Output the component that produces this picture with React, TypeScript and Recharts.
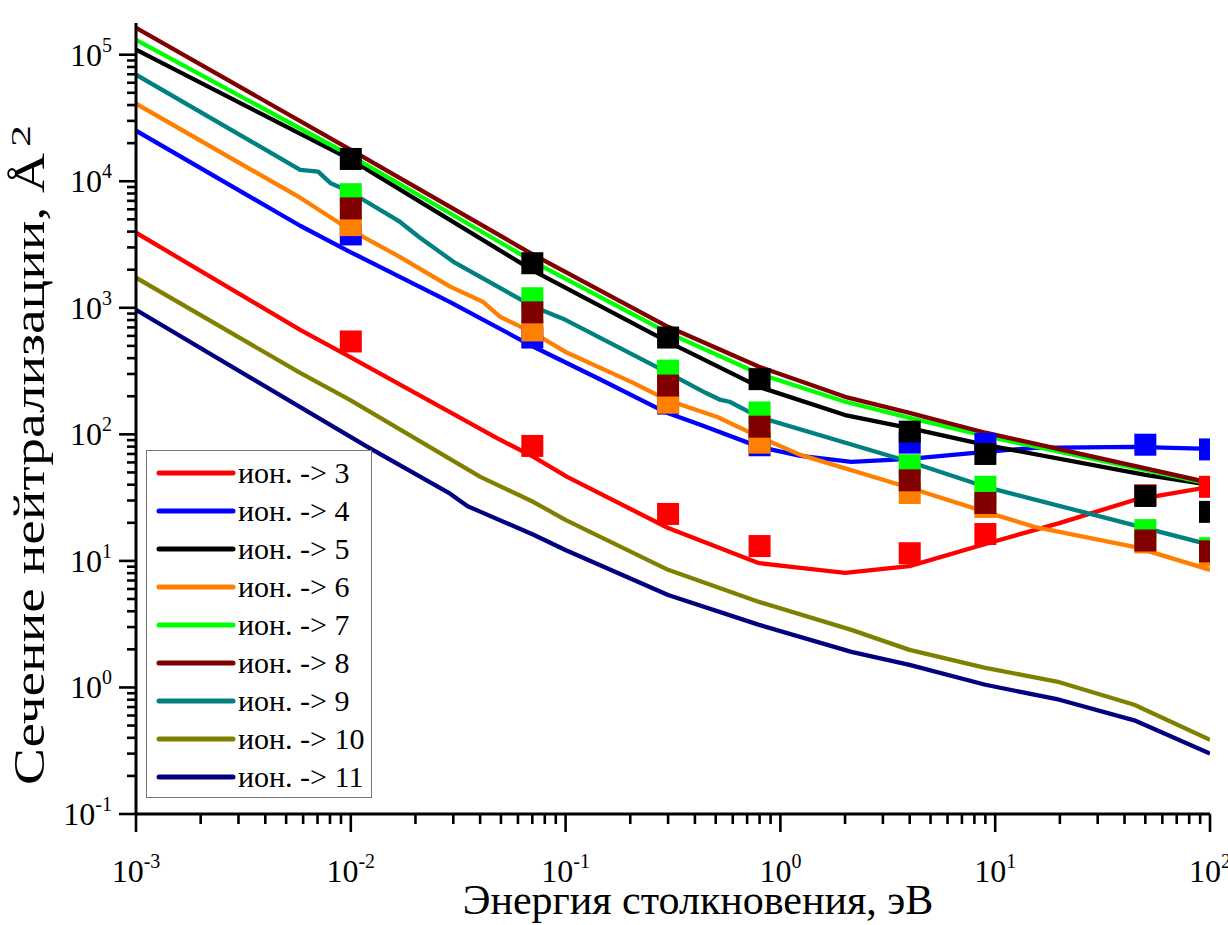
import React from 'react';
import { ComposedChart, Line, Scatter, XAxis, YAxis, Label } from 'recharts';

const FONT = "'Liberation Serif', 'Times New Roman', Times, serif";

// ---- calculated curves: e = collision energy (eV), s = cross-section (Å^2) ----
const ion3 = [
  { e: 0.001, s: 3920 }, { e: 0.00581, s: 670 }, { e: 0.0099, s: 410 }, { e: 0.0496, s: 90.6 },
  { e: 0.0709, s: 66.4 }, { e: 0.1017, s: 46.1 }, { e: 0.3, s: 18.2 }, { e: 0.796, s: 9.6 },
  { e: 1.24, s: 8.8 }, { e: 2.0, s: 8.04 }, { e: 3.99, s: 9.1 }, { e: 9.0, s: 13.6 },
  { e: 19.9, s: 19.9 }, { e: 44.4, s: 30.3 }, { e: 100, s: 38.5 },
];
const ion4 = [
  { e: 0.001, s: 25100 }, { e: 0.00581, s: 4450 }, { e: 0.0099, s: 2770 }, { e: 0.029, s: 1110 },
  { e: 0.0709, s: 492 }, { e: 0.146, s: 270 }, { e: 0.296, s: 148 }, { e: 0.424, s: 119 },
  { e: 0.796, s: 79.6 }, { e: 1.24, s: 67.6 }, { e: 2.14, s: 60.7 }, { e: 3.99, s: 64 },
  { e: 9.0, s: 72.8 }, { e: 15.2, s: 78.2 }, { e: 44.4, s: 79.6 }, { e: 100, s: 76.7 },
];
const ion5 = [
  { e: 0.001, s: 109500 }, { e: 0.01, s: 14800 }, { e: 0.0709, s: 1960 }, { e: 0.3, s: 538 },
  { e: 0.796, s: 237 }, { e: 2.0, s: 142 }, { e: 3.99, s: 112 }, { e: 9.0, s: 82.6 },
  { e: 50, s: 47.9 }, { e: 100, s: 39.9 },
];
const ion6 = [
  { e: 0.001, s: 41000 }, { e: 0.00581, s: 7410 }, { e: 0.0099, s: 4140 }, { e: 0.0169, s: 2530 },
  { e: 0.029, s: 1470 }, { e: 0.0414, s: 1110 }, { e: 0.0496, s: 849 }, { e: 0.0709, s: 634 },
  { e: 0.1017, s: 441 }, { e: 0.2066, s: 255 }, { e: 0.296, s: 187 }, { e: 0.509, s: 137 },
  { e: 0.796, s: 95.5 }, { e: 1.24, s: 68.8 }, { e: 3.99, s: 37.8 }, { e: 9.0, s: 24.4 },
  { e: 15.2, s: 18.6 }, { e: 44.4, s: 12.9 }, { e: 100, s: 8.5 },
];
const ion7 = [
  { e: 0.001, s: 131000 }, { e: 0.01, s: 15900 }, { e: 0.0709, s: 2310 }, { e: 0.3, s: 634 },
  { e: 0.796, s: 301 }, { e: 2.0, s: 181 }, { e: 3.99, s: 135 }, { e: 9.0, s: 97 }, { e: 100, s: 40.6 },
];
const ion8 = [
  { e: 0.001, s: 163000 }, { e: 0.01, s: 17700 }, { e: 0.0709, s: 2620 }, { e: 0.3, s: 708 },
  { e: 0.796, s: 342 }, { e: 2.0, s: 198 }, { e: 3.99, s: 148 }, { e: 9.0, s: 103 }, { e: 100, s: 41.4 },
];
const ion9 = [
  { e: 0.001, s: 69500 }, { e: 0.00581, s: 12300 }, { e: 0.00705, s: 11900 }, { e: 0.00802, s: 9700 },
  { e: 0.0099, s: 8260 }, { e: 0.0169, s: 4790 }, { e: 0.021, s: 3580 }, { e: 0.0305, s: 2270 },
  { e: 0.0709, s: 1020 }, { e: 0.0998, s: 803 }, { e: 0.3, s: 306 }, { e: 0.448, s: 213 },
  { e: 0.527, s: 187 }, { e: 0.58, s: 181 }, { e: 0.796, s: 137 }, { e: 3.99, s: 60.7 },
  { e: 9.0, s: 38.5 }, { e: 100, s: 13.4 },
];
const ion10 = [
  { e: 0.001, s: 1730 }, { e: 0.00581, s: 306 }, { e: 0.0099, s: 187 }, { e: 0.0401, s: 46.1 },
  { e: 0.0709, s: 29.2 }, { e: 0.0998, s: 21.1 }, { e: 0.3, s: 8.5 }, { e: 0.796, s: 4.74 },
  { e: 2.14, s: 2.85 }, { e: 3.99, s: 1.98 }, { e: 9.0, s: 1.43 }, { e: 19.9, s: 1.1 },
  { e: 44.4, s: 0.73 }, { e: 100, s: 0.385 },
];
const ion11 = [
  { e: 0.001, s: 963 }, { e: 0.0119, s: 80 }, { e: 0.029, s: 34 }, { e: 0.035, s: 27 },
  { e: 0.04, s: 24.5 }, { e: 0.0709, s: 16.1 }, { e: 0.0998, s: 12.2 },
  { e: 0.3, s: 5.38 }, { e: 0.796, s: 3.12 }, { e: 2.14, s: 1.91 }, { e: 3.99, s: 1.51 },
  { e: 9.0, s: 1.05 }, { e: 19.9, s: 0.8 }, { e: 44.4, s: 0.55 }, { e: 100, s: 0.3 },
];

// ---- experimental points ----
const expE = [0.01, 0.07, 0.3, 0.8, 4, 9, 50, 100];
const exp3 = [542, 81, 23.5, 13.1, 11.5, 16.3, 33, 38.5];
const exp4 = [3800, 582, 175, 82, 86, 84, 82.8, 76];
const exp5 = [15000, 2250, 582, 273, 105, 70, 32.6, 24.4];
const exp6 = [4500, 662, 178, 86, 34.4, 26.7, 14, 11];
const exp7 = [7900, 1190, 319, 149, 57, 38.5, 17.5, 12.6];
const exp8 = [6100, 920, 243, 115, 43.3, 28.7, 14.5, 11.9];

const LINES = [
  { name: 'ион. -> 3', data: ion3, color: '#ff0000' },
  { name: 'ион. -> 4', data: ion4, color: '#0000ff' },
  { name: 'ион. -> 5', data: ion5, color: '#000000' },
  { name: 'ион. -> 6', data: ion6, color: '#ff8000' },
  { name: 'ион. -> 7', data: ion7, color: '#00ff00' },
  { name: 'ион. -> 8', data: ion8, color: '#800000' },
  { name: 'ион. -> 9', data: ion9, color: '#008080' },
  { name: 'ион. -> 10', data: ion10, color: '#808000' },
  { name: 'ион. -> 11', data: ion11, color: '#000080' },
];

// drawing order of markers (last on top)
const POINTS = [
  { vals: exp3, color: '#ff0000' },
  { vals: exp4, color: '#0000ff' },
  { vals: exp6, color: '#ff8000' },
  { vals: exp7, color: '#00ff00' },
  { vals: exp8, color: '#800000' },
  { vals: exp5, color: '#000000' },
];

const X_DECADES = [-3, -2, -1, 0, 1, 2];
const Y_DECADES = [-1, 0, 1, 2, 3, 4, 5];
const X_DOMAIN = [0.001, 100];
const Y_DOMAIN = [0.1, 178000];

// ---- layout ----
const CHART_W = 1228;
const CHART_H = 925;
const MARGIN = { top: 23, right: 18, bottom: 0, left: 0 };
const Y_AXIS_W = 136;
const X_AXIS_H = 111;
const PLOT_LEFT = MARGIN.left + Y_AXIS_W;
const PLOT_RIGHT = CHART_W - MARGIN.right;
const PLOT_TOP = MARGIN.top;
const PLOT_BOTTOM = CHART_H - MARGIN.bottom - X_AXIS_H;
const MARK = 22;

const buildTicks = (decs: number[], lo: number, hi: number) => {
  const out: number[] = [];
  decs.forEach((d) => {
    for (let m = 1; m <= 9; m++) {
      const v = m * Math.pow(10, d);
      if (v >= lo * 0.999 && v <= hi * 1.001) out.push(v);
    }
  });
  return out;
};
const xTicks = buildTicks(X_DECADES, X_DOMAIN[0], X_DOMAIN[1]);
const yTicks = buildTicks(Y_DECADES, Y_DOMAIN[0], Y_DOMAIN[1]);

const isMajor = (v: number) => {
  const e = Math.round(Math.log10(v));
  return { major: Math.abs(v / Math.pow(10, e) - 1) < 1e-6, e };
};

const XTick = (props: any) => {
  const { x, y, payload } = props;
  const { major, e } = isMajor(payload.value);
  return (
    <g>
      <line x1={x} y1={y} x2={x} y2={y + (major ? 18 : 10)} stroke="#000" strokeWidth={2.6} />
      {major && (
        <text x={x} y={y + 68} textAnchor="middle" fontFamily={FONT} fontSize={32} fill="#000">
          10<tspan dy={-14} fontSize={20}>{e}</tspan>
        </text>
      )}
    </g>
  );
};

const YTick = (props: any) => {
  const { x, y, payload } = props;
  const { major, e } = isMajor(payload.value);
  return (
    <g>
      <line x1={x} y1={y} x2={x - (major ? 17 : 9)} y2={y} stroke="#000" strokeWidth={2.6} />
      {major && (
        <text x={x - 24} y={y + 11} textAnchor="end" fontFamily={FONT} fontSize={32} fill="#000">
          10<tspan dy={-14} fontSize={20}>{e}</tspan>
        </text>
      )}
    </g>
  );
};

const XTitle = (props: any) => {
  const vb = props.viewBox;
  return (
    <text x={vb.x + vb.width / 2 + 25} y={vb.y + 100} textAnchor="middle" fontFamily={FONT} fontSize={42} fill="#000">
      Энергия столкновения, эВ
    </text>
  );
};

const YTitle = (props: any) => {
  const vb = props.viewBox;
  const cx = 44;
  const start = vb.y + vb.height - 29; // bottom end of the rotated title
  const len = 632;
  const supStart = start - len - 6;
  const sx = cx - 14;
  return (
    <g>
      <text
        x={cx} y={start} transform={`rotate(-90 ${cx} ${start})`} textAnchor="start"
        fontFamily={FONT} fontSize={44} fill="#000" textLength={len} lengthAdjust="spacingAndGlyphs"
      >
        Сечение нейтрализации, Å
      </text>
      <text
        x={sx} y={supStart} transform={`rotate(-90 ${sx} ${supStart})`} textAnchor="start"
        fontFamily={FONT} fontSize={28} fill="#000" textLength={22} lengthAdjust="spacingAndGlyphs"
      >
        2
      </text>
    </g>
  );
};

// square marker, cut at the plot frame like the original
const squareShape = (color: string) => (p: any) => {
  const x0 = Math.max(p.cx - MARK / 2, PLOT_LEFT);
  const x1 = Math.min(p.cx + MARK / 2, PLOT_RIGHT);
  const y0 = Math.max(p.cy - MARK / 2, PLOT_TOP);
  const y1 = Math.min(p.cy + MARK / 2, PLOT_BOTTOM);
  if (x1 <= x0 || y1 <= y0) return <g />;
  return <rect x={x0} y={y0} width={x1 - x0} height={y1 - y0} fill={color} />;
};

const LegendBox = () => (
  <div
    style={{
      position: 'absolute', left: 146, top: 450, width: 226, height: 348,
      boxSizing: 'border-box', border: '1.5px solid #777', background: '#fff',
    }}
  >
    <svg width={224} height={346} style={{ display: 'block' }}>
      {LINES.map((l, i) => {
        const cy = 22 + i * 38;
        return (
          <g key={l.name}>
            <line x1={12} y1={cy} x2={86} y2={cy} stroke={l.color} strokeWidth={5} strokeLinecap="round" />
            <text x={91} y={cy + 10} fontFamily={FONT} fontSize={30} fill="#000">{l.name}</text>
          </g>
        );
      })}
    </svg>
  </div>
);

export default function App() {
  return (
    <div style={{ position: 'absolute', left: 0, top: 0, width: CHART_W, height: CHART_H, background: '#fff' }}>
      <ComposedChart width={CHART_W} height={CHART_H} margin={MARGIN}>
        <XAxis
          type="number" dataKey="e" scale="log" domain={X_DOMAIN} ticks={xTicks} interval={0}
          allowDataOverflow tickLine={false} tickSize={0} tickMargin={0} height={X_AXIS_H}
          axisLine={{ stroke: '#000', strokeWidth: 3 }} tick={XTick}
        >
          <Label content={XTitle} />
        </XAxis>
        <YAxis
          type="number" dataKey="s" scale="log" domain={Y_DOMAIN} ticks={yTicks} interval={0}
          allowDataOverflow tickLine={false} tickSize={0} tickMargin={0} width={Y_AXIS_W}
          axisLine={{ stroke: '#000', strokeWidth: 3 }} tick={YTick}
        >
          <Label content={YTitle} />
        </YAxis>
        {LINES.map((l) => (
          <Line
            key={l.name} data={l.data} dataKey="s" type="linear" stroke={l.color} strokeWidth={4.3}
            strokeLinejoin="round" dot={false} activeDot={false} isAnimationActive={false}
          />
        ))}
        {POINTS.map((p, i) => (
          <Scatter
            key={i} data={expE.map((e, j) => ({ e, s: p.vals[j] }))} dataKey="s"
            fill={p.color} shape={squareShape(p.color)} isAnimationActive={false}
          />
        ))}
      </ComposedChart>
      <LegendBox />
    </div>
  );
}
